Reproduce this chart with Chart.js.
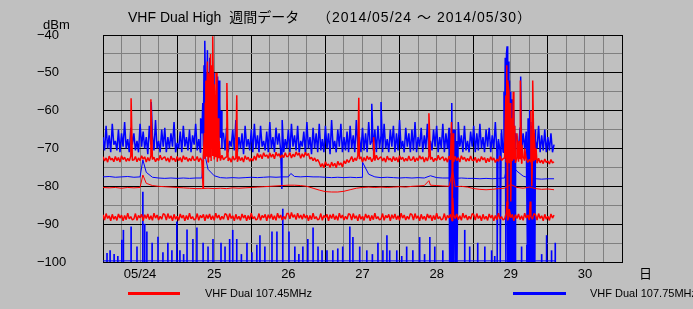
<!DOCTYPE html>
<html>
<head>
<meta charset="utf-8">
<script src="https://cdn.jsdelivr.net/npm/chart.js@4.4.1/dist/chart.umd.min.js"></script>
<style>
  html, body { margin: 0; padding: 0; background: #c0c0c0; overflow: hidden; }
  #wrap { position: relative; width: 693px; height: 309px; overflow: hidden; }
  #chart { position: absolute; left: 0; top: 0; }
  .txt { position: absolute; color: #000; white-space: pre; line-height: 1;
         font-family: "Liberation Sans", "Noto Sans CJK JP", sans-serif; }
  .key { position: absolute; height: 3px; }
</style>
</head>
<body>
<div id="wrap">
  <canvas id="chart" width="693" height="309"></canvas>
  <div class="txt" style="left:128px; top:10px; font-size:14px;">VHF Dual High  週間データ　 <span style="letter-spacing:1px;">（2014/05/24 ～ 2014/05/30）</span></div>
  <div class="txt" style="left:43px; top:18px; font-size:13px;">dBm</div>
  <div class="txt" style="left:639px; top:267px; font-size:13px;">日</div>
  <div class="key" style="left:128px; top:292px; width:52px; background:#ff0000;"></div>
  <div class="txt" style="left:205px; top:288px; font-size:11px;">VHF Dual 107.45MHz</div>
  <div class="key" style="left:513px; top:292px; width:53px; background:#0000ff;"></div>
  <div class="txt" style="left:590px; top:288px; font-size:11px;">VHF Dual 107.75MHz</div>
</div>
<script>
// x axis is hours since 2014/05/24 00:00, one week
const dayLabels = ['05/24', '25', '26', '27', '28', '29', '30'];
const yTicks = [-40, -50, -60, -70, -80, -90, -100];

// half-hourly samples (h = 0, 0.5 .. 146), 20 per row = 10 hours
const blueTop = [
  -67, -70.5, -64, -70, -66.5, -71, -63.5, -69, -68, -70.5, -65, -71, -66, -69.5, -63, -70, -67.5, -71, -64.5, -69,
  -66, -70.5, -68, -71, -63.5, -69.5, -65.5, -70, -67, -71.5, -64, -69, -66.5, -70.5, -62.5, -70, -68, -71, -65, -69.5,
  -64.5, -71, -67, -70, -66, -69.5, -63, -71, -68.5, -70, -65.5, -71, -64, -69.5, -67, -70.5, -65, -71, -66.5, -69,
  -63.5, -70.5, -67.5, -71, -65, -69.5, -66, -70, -64, -71, -68, -70.5, -65.5, -69, -63, -71, -67, -70, -66, -70.5,
  -64.5, -71, -68, -69.5, -65, -70.5, -62.5, -71, -67, -70, -66, -71.5, -64, -69.5, -67.5, -70.5, -65, -71, -63.5, -70,
  -66.5, -71, -64, -69.5, -68, -70.5, -65.5, -71, -63, -70, -67, -71, -64.5, -69, -66, -70.5, -62.5, -71, -67.5, -70,
  -65, -71, -63.5, -69.5, -66.5, -70.5, -64, -71, -68, -69.5, -65.5, -71, -63, -70, -67, -71.5, -64.5, -70, -66, -71,
  -63.5, -70.5, -67.5, -71, -64, -70, -66, -71.5, -62.5, -70, -68, -71, -65, -69.5, -63.5, -71, -67, -70.5, -65.5, -71,
  -64, -70, -66.5, -71, -62.5, -69.5, -67, -71, -64.5, -70.5, -66, -71, -63, -69, -68, -70.5, -65, -71, -64, -70,
  -66.5, -71, -63.5, -70, -67.5, -71, -65, -69.5, -64, -71, -66, -70.5, -62.5, -70, -68, -71, -64.5, -69.5, -66, -71,
  -65, -70.5, -63, -71, -67, -69.5, -64.5, -71, -66.5, -70, -63.5, -71, -68, -70.5, -65, -69.5, -64, -71, -67, -70,
  -63.5, -71, -66, -70, -64.5, -71.5, -67.5, -70, -65, -71, -63, -69.5, -66.5, -71, -64, -70.5, -68, -71, -65.5, -69.5,
  -64, -71, -66, -70.5, -63.5, -70, -67, -71, -65, -69.5, -64.5, -71, -66.5, -70, -63, -71, -67.5, -70.5, -65, -71,
  -64, -70, -66.5, -71, -65, -69.5, -63.5, -71, -67, -70.5, -64.5, -71, -66, -70, -65.5, -71, -64, -70.5, -66.5, -71,
  -65, -70, -64, -71, -66.5, -70.5, -65, -71, -67, -70.5, -66, -71, -69
];
const redTop = [
  -72.2, -73.3, -72.5, -73.6, -72.0, -73.0, -72.6, -73.5, -72.1, -73.2, -72.4, -73.6, -71.9, -72.9, -72.3, -73.4, -72.6, -73.3, -72.0, -73.1,
  -73.0, -72.1, -73.5, -72.5, -73.2, -71.9, -72.8, -72.2, -73.6, -72.4, -73.3, -72.0, -72.9, -72.3, -73.5, -72.6, -73.2, -71.8, -73.0, -72.5,
  -72.2, -73.3, -72.5, -73.6, -72.0, -73.0, -72.6, -73.5, -72.1, -73.2, -72.4, -73.6, -71.9, -72.9, -72.3, -73.4, -72.6, -73.3, -72.0, -73.1,
  -73.0, -72.1, -73.5, -72.5, -73.2, -71.9, -72.8, -72.2, -73.6, -72.4, -73.3, -72.0, -72.9, -72.3, -73.5, -72.6, -73.2, -71.8, -73.0, -72.5,
  -72.2, -73.3, -72.5, -73.6, -72.0, -73.0, -72.6, -73.5, -72.1, -73.2, -72.4, -73.6, -71.9, -72.9, -72.3, -73.4, -72.6, -73.3, -72.0, -73.1,
  -71.3, -72.4, -71.6, -72.7, -71.1, -72.1, -71.7, -72.6, -71.2, -72.3, -71.5, -72.7, -71.0, -72.0, -71.4, -72.5, -71.7, -72.4, -71.1, -72.2,
  -72.0, -71.1, -72.5, -71.5, -72.2, -70.9, -71.8, -71.2, -72.6, -71.4, -72.3, -71.0, -71.9, -71.3, -72.8, -72.3, -73.2, -72.5, -73.4, -72.9,
  -73.7, -74.8, -74.0, -75.1, -73.5, -74.5, -74.1, -75.0, -73.6, -74.7, -73.9, -75.1, -73.4, -74.4, -73.8, -74.9, -73.3, -74.0, -72.9, -73.7,
  -73.0, -72.1, -73.5, -72.5, -73.2, -71.9, -72.8, -72.2, -73.6, -72.4, -73.3, -72.0, -72.9, -72.3, -73.5, -72.6, -73.2, -71.8, -73.0, -72.5,
  -72.2, -73.3, -72.5, -73.6, -72.0, -73.0, -72.6, -73.5, -72.1, -73.2, -72.4, -73.6, -71.9, -72.9, -72.3, -73.4, -72.6, -73.3, -72.0, -73.1,
  -73.0, -72.1, -73.5, -72.5, -73.2, -71.9, -72.8, -72.2, -73.6, -72.4, -73.3, -72.0, -72.9, -72.3, -73.5, -72.6, -73.2, -71.8, -73.0, -72.5,
  -72.2, -73.3, -72.5, -73.6, -72.0, -73.0, -72.6, -73.5, -72.1, -73.2, -72.4, -73.6, -71.9, -72.9, -72.3, -73.4, -72.6, -73.3, -72.0, -73.1,
  -73.2, -72.3, -73.7, -72.7, -73.4, -72.1, -73.0, -72.4, -73.8, -72.6, -73.5, -72.2, -73.1, -72.5, -73.7, -72.8, -73.4, -72.0, -73.2, -72.7,
  -72.5, -73.6, -72.8, -73.9, -72.3, -73.3, -72.9, -73.8, -72.4, -73.5, -72.7, -73.9, -72.2, -73.2, -72.6, -73.7, -72.9, -73.6, -72.3, -73.4,
  -73.0, -73.9, -72.6, -73.8, -73.1, -74.0, -72.8, -73.7, -73.3, -74.1, -72.9, -73.8, -73.5
];
const redBottom = [
  -87.5, -88.9, -87.2, -88.5, -87.8, -89.1, -87.4, -88.7, -87.9, -89.0, -87.3, -88.4, -87.6, -89.1, -87.7, -88.8, -87.1, -88.6, -88.0, -88.9,
  -88.6, -87.2, -89.0, -87.7, -88.3, -87.4, -89.1, -87.5, -88.5, -87.3, -88.8, -87.8, -89.0, -87.1, -88.4, -87.6, -88.9, -87.9, -88.7, -87.2,
  -87.5, -88.9, -87.2, -88.5, -87.8, -89.1, -87.4, -88.7, -87.9, -89.0, -87.3, -88.4, -87.6, -89.1, -87.7, -88.8, -87.1, -88.6, -88.0, -88.9,
  -88.6, -87.2, -89.0, -87.7, -88.3, -87.4, -89.1, -87.5, -88.5, -87.3, -88.8, -87.8, -89.0, -87.1, -88.4, -87.6, -88.9, -87.9, -88.7, -87.2,
  -87.5, -88.9, -87.2, -88.5, -87.8, -89.1, -87.4, -88.7, -87.9, -89.0, -87.3, -88.4, -87.6, -89.1, -87.7, -88.8, -87.1, -88.6, -88.0, -88.9,
  -88.6, -87.2, -89.0, -87.7, -88.3, -87.4, -89.1, -87.5, -88.5, -87.3, -88.8, -87.8, -89.0, -87.1, -88.4, -87.6, -88.9, -87.9, -88.7, -87.2,
  -87.2, -88.6, -86.9, -88.2, -87.5, -88.8, -87.1, -88.4, -87.6, -88.7, -87.3, -88.4, -87.6, -89.1, -87.7, -88.8, -87.1, -88.6, -88.0, -88.9,
  -88.6, -87.2, -89.0, -87.7, -88.3, -87.4, -89.1, -87.5, -88.5, -87.3, -88.8, -87.8, -89.0, -87.1, -88.4, -87.6, -88.9, -87.9, -88.7, -87.2,
  -87.5, -88.9, -87.2, -88.5, -87.8, -89.1, -87.4, -88.7, -87.9, -89.0, -87.3, -88.4, -87.6, -89.1, -87.7, -88.8, -87.1, -88.6, -88.0, -88.9,
  -88.6, -87.2, -89.0, -87.7, -88.3, -87.4, -89.1, -87.5, -88.5, -87.3, -88.8, -87.8, -89.0, -87.1, -88.4, -87.6, -88.9, -87.9, -88.7, -87.2,
  -87.5, -88.9, -87.2, -88.5, -87.8, -89.1, -87.4, -88.7, -87.9, -89.0, -87.3, -88.4, -87.6, -89.1, -87.7, -88.8, -87.1, -88.6, -88.0, -88.9,
  -88.6, -87.2, -89.0, -87.7, -88.3, -87.4, -89.1, -87.5, -88.5, -87.3, -88.8, -87.8, -89.0, -87.1, -88.4, -87.6, -88.9, -87.9, -88.7, -87.2,
  -87.5, -88.9, -87.2, -88.5, -87.8, -89.1, -87.4, -88.7, -87.9, -89.0, -87.3, -88.4, -87.6, -89.1, -87.7, -88.8, -87.1, -88.6, -88.0, -88.9,
  -88.6, -87.2, -89.0, -87.7, -88.3, -87.4, -89.1, -87.5, -88.5, -87.3, -88.8, -87.8, -89.0, -87.1, -88.4, -87.6, -88.9, -87.9, -88.7, -87.2,
  -87.5, -88.9, -87.2, -88.5, -87.8, -89.1, -87.4, -88.7, -87.9, -89.0, -87.3, -88.4, -87.6
];

// two-hourly samples (h = 0, 2, .. 146)
const blueMid = [
  -77.5, -77.4, -77.6, -77.5, -77.4, -77.6, -77.5, -76.3, -77.6, -77.8,
  -77.9, -77.8, -77.9, -77.8, -77.9, -77.8, -77.8, -75.5, -77.2, -77.7,
  -77.8, -77.7, -77.8, -77.7, -77.6, -77.7, -77.6, -77.5, -77.6, -77.5,
  -77.5, -77.4, -77.5, -77.4, -77.5, -77.5, -77.6, -77.7, -77.6, -77.7,
  -77.6, -77.7, -77.6, -76.8, -77.5, -77.7, -77.6, -77.7, -77.8, -77.7,
  -77.8, -77.7, -77.8, -77.2, -77.7, -77.8, -77.8, -77.9, -77.8, -77.9,
  -77.9, -78.0, -77.9, -78.0, -77.9, -77.8, -74.0, -76.0, -77.3, -77.8,
  -78.0, -78.1, -78.0, -78.0
];
const redMid = [
  -80.3, -80.4, -80.3, -80.5, -80.3, -80.4, -80.3, -79.2, -79.8, -80.0,
  -80.1, -80.2, -80.3, -80.4, -80.5, -80.6, -80.6, -80.5, -80.6, -80.5,
  -80.6, -80.4, -80.5, -80.4, -80.3, -80.2, -80.1, -80.0, -79.9, -79.8,
  -79.7, -79.7, -79.8, -80.0, -80.5, -81.0, -81.4, -81.5, -81.5, -81.3,
  -80.9, -80.5, -80.3, -80.2, -80.3, -80.2, -80.3, -80.2, -80.1, -80.2,
  -80.0, -79.9, -79.8, -79.7, -79.8, -79.9, -80.0, -80.1, -80.0, -80.2,
  -80.6, -80.8, -80.9, -80.8, -80.6, -80.5, -79.5, -80.3, -80.5, -80.2,
  -80.6, -80.8, -80.7, -80.9
];

// floor line of the lower blue trace and its bursts: [hour, dBm]
const blueFloor = [[0, -99.7], [146.5, -99.7]];
const blueBursts = [
  [1.3, -97.7], [2.3, -97], [3.6, -98], [4.8, -98.5], [6.1, -94.2], [6.6, -91.6], [9.1, -90.7],
  [11, -96], [12.9, -81.5], [13.5, -90], [14.2, -92], [15.9, -95], [17.8, -93.4], [19.4, -97.5], [21, -95],
  [22.3, -97], [23.9, -89.4], [24.9, -97], [26.1, -98], [27.2, -91.5], [29.1, -94], [30.4, -91],
  [32.4, -95], [34, -96], [35.6, -94], [38.2, -95], [39.5, -96], [41, -94],
  [42, -91.6], [43.3, -94], [44.8, -98], [46.6, -95], [48.2, -97.5], [49.8, -95.5], [50.8, -93], [52.4, -96],
  [54.7, -92], [56.3, -92], [58.2, -86], [60.2, -92], [62.1, -96], [63.4, -98], [64.7, -96],
  [66.3, -94], [68, -91], [69.6, -96], [70.9, -97], [72.5, -97], [74.4, -97],
  [76, -96.5], [77.6, -96], [79.9, -90.7], [80.9, -93.5], [83.1, -96], [85.4, -97], [87.2, -98],
  [89, -95], [90.6, -97], [91.9, -93], [92.8, -97], [95.1, -97], [96.7, -98.5], [98.3, -96],
  [100.3, -97], [102.5, -93.5], [104.1, -98], [105.8, -93.5], [107.4, -96], [110, -97], [117.1, -91.6],
  [118.7, -96], [121.3, -95], [123.6, -96], [125.8, -97], [126.8, -98.5], [135.5, -96],
  [137.2, -95.5], [142, -98], [143.6, -93], [145.2, -97], [146.4, -95]
];

// short events between samples: [hour, dBm]
const blueTopEvents = [
  [15.6, -57.7], [31.6, -62], [32.0, -66], [32.3, -58], [32.5, -65], [32.7, -48],
  [32.85, -60], [33.0, -41.5], [33.2, -56], [33.4, -50], [33.6, -60], [33.8, -44],
  [34.0, -58], [34.2, -52], [34.4, -62], [34.6, -46], [34.8, -60], [35.0, -52],
  [35.2, -64], [35.4, -55], [35.6, -62], [35.9, -50], [36.2, -64], [36.4, -58],
  [36.7, -65], [37.0, -55], [37.2, -51], [37.4, -60], [37.6, -52], [37.8, -58],
  [38.1, -64], [38.3, -60], [38.6, -66], [57.9, -80.7], [87.0, -58.2], [90.0, -57.7],
  [112.2, -100], [112.45, -66], [112.7, -100], [112.9, -58], [113.1, -100], [113.35, -65],
  [113.6, -100], [113.85, -67], [114.1, -100], [114.35, -68], [114.6, -100],
  [127.6, -100], [127.9, -68], [128.6, -100], [128.9, -66], [129.8, -55],
  [130.2, -46], [130.4, -100], [130.6, -45], [130.8, -43], [131.0, -100], [131.2, -47],
  [131.4, -100], [131.6, -52], [131.8, -100], [132.0, -55], [132.2, -100], [132.4, -57],
  [132.6, -100], [132.8, -60], [133.0, -100], [133.2, -64], [133.4, -100], [133.6, -66],
  [135.2, -51], [137.4, -100], [137.6, -62], [137.8, -100], [138.0, -59.8], [138.2, -100],
  [138.4, -63], [138.6, -100], [138.8, -64], [139.0, -100], [139.2, -66], [139.4, -100],
  [139.6, -67], [139.8, -100], [140.0, -68]
];
const redTopEvents = [
  [9.1, -56.7], [15.5, -57], [32.4, -80.5], [32.8, -66], [33.1, -58], [33.3, -52],
  [33.5, -62], [33.8, -47], [34.0, -60], [34.3, -50], [34.5, -58], [34.8, -45],
  [35.0, -56], [35.3, -48], [35.45, -60], [35.6, -40.3], [35.8, -58], [36.0, -53],
  [36.3, -64], [36.6, -50], [36.9, -66], [37.3, -62], [37.6, -68], [40.1, -52.7],
  [43.3, -55.9], [82.8, -56.6], [87.6, -67], [105.5, -60.7],
  [112.8, -63], [113.0, -88], [113.4, -66], [130.4, -56], [130.7, -48], [130.9, -85],
  [131.0, -52], [131.4, -55], [131.8, -58], [132.0, -84], [132.3, -62], [132.8, -55],
  [133.3, -64], [134.0, -66], [134.7, -68], [135.1, -52], [135.6, -69], [136.5, -70],
  [138.5, -60], [138.8, -80], [139.1, -52], [139.5, -65], [140.2, -70]
];
const blueMidEvents = [[12.9, -73], [32.6, -70.2], [60.8, -76.6], [84.0, -73.6], [131.0, -73.5]];
const redMidEvents = [[12.9, -77], [105.5, -78.5], [113.2, -76]];
const redBottomEvents = [[113.2, -83], [130.8, -84], [131.5, -86], [138.3, -84]];

function buildSeries(step, values, events) {
  const pts = values.map((v, i) => ({ x: i * step, y: v }));
  events.forEach((e) => pts.push({ x: e[0], y: e[1] }));
  pts.sort((a, b) => a.x - b.x);
  return pts;
}

function lineSet(label, color, pts, width) {
  return {
    type: 'line',
    label: label,
    data: pts,
    borderColor: color,
    borderWidth: width,
    borderJoinStyle: 'bevel',
    pointRadius: 0,
    tension: 0,
    fill: false
  };
}

const fontTick = { family: '"Liberation Sans", sans-serif', size: 13 };

// red first so it is painted over blue
const datasets = [
  lineSet('107.45 top', '#ff0000', buildSeries(0.5, redTop, redTopEvents), 1.5),
  lineSet('107.45 mid', '#ff0000', buildSeries(2, redMid, redMidEvents), 1),
  lineSet('107.45 low', '#ff0000', buildSeries(0.5, redBottom, redBottomEvents), 1.5),
  lineSet('107.75 top', '#0000ff', buildSeries(0.5, blueTop, blueTopEvents), 1.5),
  lineSet('107.75 mid', '#0000ff', buildSeries(2, blueMid, blueMidEvents), 1),
  lineSet('107.75 floor', '#0000ff', blueFloor.map((p) => ({ x: p[0], y: p[1] })), 1),
  {
    type: 'bar',
    label: '107.75 bursts',
    data: blueBursts.map((p) => ({ x: p[0], y: [-100, p[1]] })),
    backgroundColor: '#0000ff',
    borderWidth: 0,
    barThickness: 1
  }
];

new Chart(document.getElementById('chart'), {
  type: 'line',
  data: { datasets: datasets },
  options: {
    responsive: false,
    animation: false,
    devicePixelRatio: 1,
    layout: { padding: { top: 35, right: 71, bottom: 27, left: 37 } },
    plugins: { legend: { display: false }, tooltip: { enabled: false } },
    scales: {
      x: {
        type: 'linear',
        min: 0,
        max: 168,
        offset: false,
        ticks: {
          stepSize: 6,
          autoSkip: false,
          maxRotation: 0,
          padding: 5,
          color: '#000',
          font: fontTick,
          callback: (v) => (v % 24 === 12 ? dayLabels[(v - 12) / 24] : '')
        },
        grid: {
          drawTicks: false,
          lineWidth: 1,
          offset: false,
          color: (ctx) => (ctx.tick && ctx.tick.value % 24 === 0 ? '#000000' : '#808080')
        },
        border: { color: '#000000' },
        afterFit: (s) => { s.height = 20; }
      },
      y: {
        min: -100,
        max: -40,
        ticks: {
          stepSize: 5,
          autoSkip: false,
          crossAlign: 'far',
          padding: 4,
          color: '#000',
          font: fontTick,
          callback: (v) => (yTicks.includes(v) ? '\u2212' + Math.abs(v) : '')
        },
        grid: {
          drawTicks: false,
          lineWidth: 1,
          color: (ctx) => (ctx.tick && ctx.tick.value % 10 === 0 ? '#000000' : '#808080')
        },
        border: { color: '#000000' },
        afterFit: (s) => { s.width = 66; }
      }
    }
  }
});
</script>
</body>
</html>
